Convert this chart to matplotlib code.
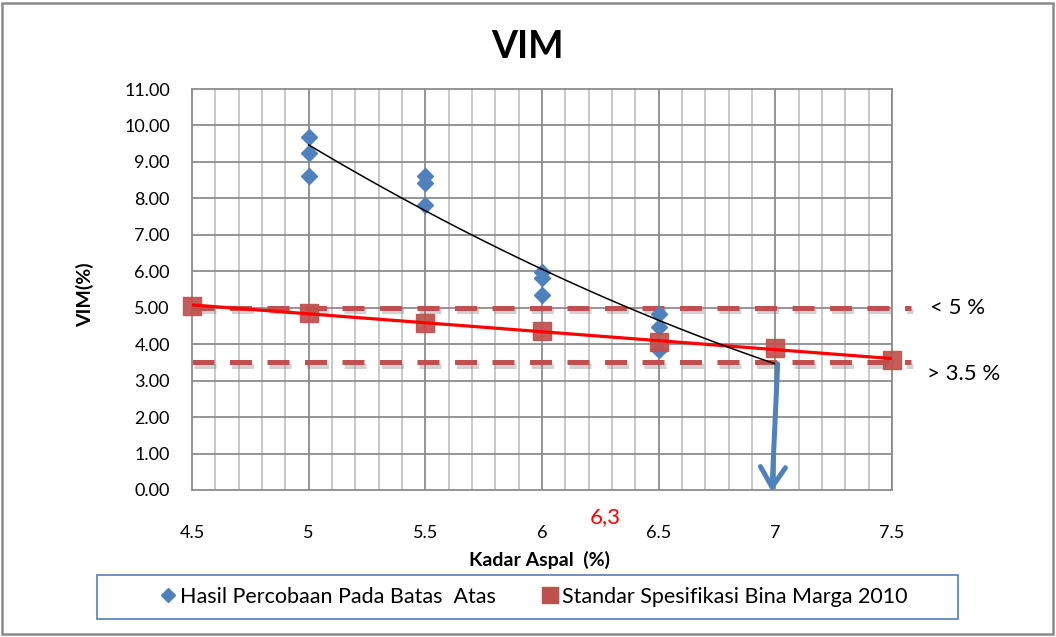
import numpy as np
import matplotlib
matplotlib.use("Agg")
import matplotlib.pyplot as plt
import matplotlib.patheffects as pe
from matplotlib.lines import Line2D
from matplotlib.patches import Rectangle
from matplotlib.ticker import MultipleLocator, FormatStrFormatter

# Hasil percobaan (batas atas)
kadar_uji = [5.0, 5.0, 5.0, 5.5, 5.5, 5.5, 6.0, 6.0, 6.0, 6.5, 6.5, 6.5]
vim_uji = [9.68, 9.24, 8.60, 8.62, 8.42, 7.82, 5.99, 5.81, 5.35, 4.82, 4.48, 3.85]

# Garis trend hasil percobaan
tren_kadar = [5.0, 5.5, 6.0, 6.5, 7.0]
tren_vim = [9.46, 7.68, 6.04, 4.66, 3.46]

# Standar Spesifikasi Bina Marga 2010
standar_kadar = [4.5, 5.0, 5.5, 6.0, 6.5, 7.0, 7.5]
standar_vim = [5.05, 4.86, 4.58, 4.36, 4.07, 3.90, 3.57]

batas_atas = 5.0
batas_bawah = 3.5
kadar_optimum = "6,3"

x_ticks = [4.5, 5, 5.5, 6, 6.5, 7, 7.5]
x_labels = ["4.5", "5", "5.5", "6", "6.5", "7", "7.5"]

BIRU = "#4f81bd"
MERAH = "#c0504d"
GRID_TUA = "#8c8c8c"
GRID_MUDA = "#c4c4c4"

plt.rcParams["font.family"] = ["Lato", "DejaVu Sans"]

fig = plt.figure(figsize=(10.56, 6.37), dpi=100)
ax = fig.add_axes([192 / 1056, 1 - 490 / 637, 700 / 1056, 401 / 637])

ax.set_xlim(4.5, 7.5)
ax.set_ylim(0, 11)

# grid: minor tiap 0.1, major tiap 0.5 (x) dan tiap 1 (y)
for xv in np.arange(4.6, 7.5, 0.1):
    if abs(xv * 2 - round(xv * 2)) < 1e-6:
        ax.axvline(xv, color=GRID_TUA, lw=1.3, zorder=0)
    else:
        ax.axvline(xv, color=GRID_MUDA, lw=1.3, zorder=0)
for yv in range(1, 11):
    ax.axhline(yv, color=GRID_TUA, lw=1.3, zorder=0)

for s in ax.spines.values():
    s.set_color(GRID_TUA)
    s.set_linewidth(1.3)

ax.set_xticks(x_ticks)
ax.set_xticklabels(x_labels)
ax.yaxis.set_major_locator(MultipleLocator(1))
ax.yaxis.set_major_formatter(FormatStrFormatter("%.2f"))
ax.tick_params(axis="both", length=0, labelsize=13)
ax.tick_params(axis="x", pad=25)
ax.tick_params(axis="y", pad=16)

# garis batas spesifikasi (putus-putus dengan bayangan)
bayangan = [pe.SimpleLineShadow(offset=(1.5, -2.5), shadow_color="#7f7f7f", alpha=0.35),
            pe.Normal()]
for batas in (batas_atas, batas_bawah):
    ax.plot([4.5, 7.58], [batas, batas], color=MERAH, lw=3.6, dashes=(4.4, 3.1),
            clip_on=False, zorder=2, path_effects=bayangan)

ax.plot(kadar_uji, vim_uji, "D", color=BIRU, ms=8.5, zorder=3)
ax.plot(standar_kadar, standar_vim, "s", color=MERAH, ms=13.5, alpha=0.92,
        clip_on=False, zorder=4)

# trend linear standar
k = np.polyfit(standar_kadar, standar_vim, 1)
xs = np.linspace(4.5, 7.5, 100)
ax.plot(xs, np.polyval(k, xs), color="red", lw=2.3, zorder=5)

# trend hasil percobaan
k2 = np.polyfit(tren_kadar, tren_vim, 2)
xt = np.linspace(tren_kadar[0], tren_kadar[-1], 100)
ax.plot(xt, np.polyval(k2, xt), color="black", lw=1.1, zorder=6)

ax.annotate("", xy=(6.985, -0.05), xytext=(7.01, tren_vim[-1]),
            arrowprops=dict(arrowstyle="->,head_length=0.72,head_width=0.45",
                            color=BIRU, lw=3.6, mutation_scale=20,
                            shrinkA=0, shrinkB=0),
            annotation_clip=False, zorder=7)

ax.text(6.27, -0.74, kadar_optimum, color="red", fontsize=16,
        ha="center", va="center", clip_on=False)

ax.text(7.665, batas_atas, "< 5 %", fontsize=16, ha="left", va="center")
ax.text(7.65, 3.18, "> 3.5 %", fontsize=16, ha="left", va="center")

ax.set_xlabel("Kadar Aspal  (%)", fontsize=14, fontweight="bold")
ax.xaxis.set_label_coords(0.497, -0.152)
ax.set_ylabel("VIM(%)", fontsize=14, fontweight="bold", va="center")
ax.yaxis.set_label_coords(-0.153, 0.487)

fig.text(527 / 1056, 1 - 47 / 637, "VIM", fontsize=27, fontweight="bold",
         ha="center", va="center")

# kotak legenda
fig.patches.append(Rectangle((97 / 1056, 1 - 619 / 637), 861 / 1056, 44 / 637,
                             transform=fig.transFigure, fill=False,
                             edgecolor=BIRU, lw=1.2))
handles = [Line2D([], [], marker="D", ls="none", color=BIRU, ms=7.5),
           Line2D([], [], marker="s", ls="none", color=MERAH, ms=11)]
fig.legend(handles, ["Hasil Percobaan Pada Batas  Atas",
                     "Standar Spesifikasi Bina Marga 2010"],
           loc="center", bbox_to_anchor=(534 / 1056, 1 - 597 / 637), ncol=2,
           frameon=False, fontsize=15.5, handlelength=0.7, handletextpad=0.2,
           columnspacing=2.2)

# bingkai luar grafik
fig.patches.append(Rectangle((2 / 1056, 3 / 637), 1051 / 1056, 631 / 637,
                             transform=fig.transFigure, fill=False,
                             edgecolor="#8a8a8a", lw=1.8))

fig.savefig("out.png", dpi=100)
